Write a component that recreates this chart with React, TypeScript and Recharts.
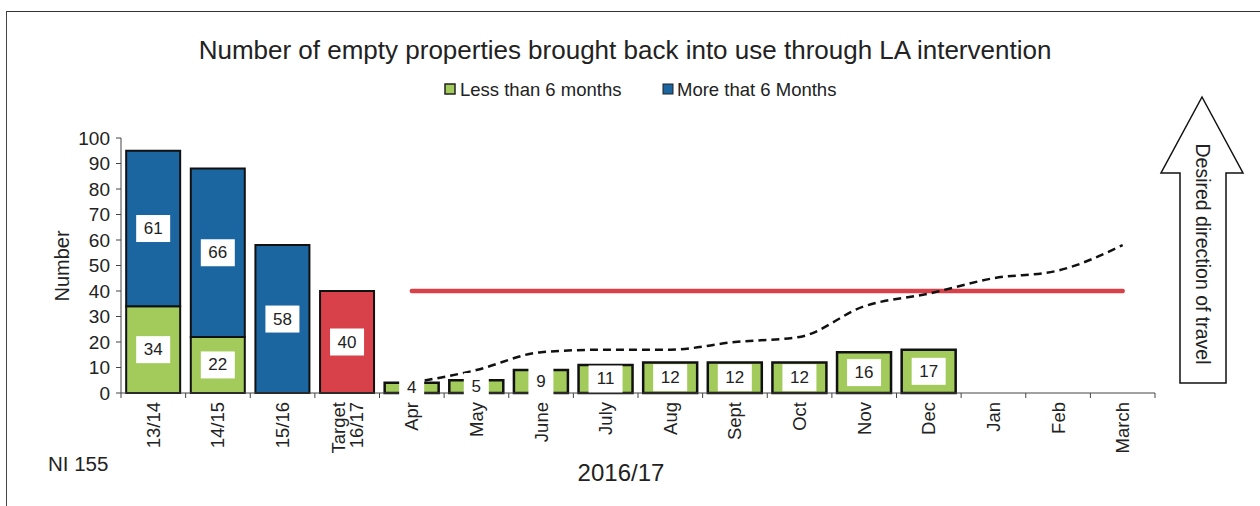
import React from "react"
import { ComposedChart, Bar, Line, XAxis, YAxis, Cell, LabelList } from "recharts"

const categories = [
  "13/14", "14/15", "15/16", "Target 16/17", "Apr", "May", "June", "July",
  "Aug", "Sept", "Oct", "Nov", "Dec", "Jan", "Feb", "March",
]
const lessThan6 = [34, 22, null, null, 4, 5, 9, 11, 12, 12, 12, 16, 17, null, null, null]
const moreThan6 = [61, 66, 58, null, null, null, null, null, null, null, null, null, null, null, null, null]
const targetBar = [null, null, null, 40, null, null, null, null, null, null, null, null, null, null, null, null]
const targetLine = [null, null, null, null, 40, 40, 40, 40, 40, 40, 40, 40, 40, 40, 40, 40]
const trendLine = [null, null, null, null, 4, 9, 16, 17, 17, 20, 22, 34, 39, 45, 48, 58]
const yTicks = [0, 10, 20, 30, 40, 50, 60, 70, 80, 90, 100]

const GREEN = "#a2cb5b"
const BLUE = "#1b65a0"
const RED = "#d8404a"
const FONT = "'Liberation Sans', Arial, sans-serif"

const data = categories.map((cat, i) => ({
  cat,
  less: lessThan6[i],
  more: moreThan6[i],
  target: targetBar[i],
  targetLine: targetLine[i],
  trend: trendLine[i],
}))

const CHART_W = 1260
const CHART_H = 506
const PLOT_LEFT = 121
const PLOT_RIGHT = 1155
const BAND = (PLOT_RIGHT - PLOT_LEFT) / categories.length

function BoxLabel(props: any) {
  const { x, y, width, height, value } = props
  if (value == null) return null
  const w = String(value).length * 9 + 16
  const h = 27
  const cx = x + width / 2
  const cy = y + height / 2
  return (
    <g>
      <rect x={cx - w / 2} y={cy - h / 2} width={w} height={h} fill="#fff" />
      <text x={cx} y={cy} textAnchor="middle" dominantBaseline="central" fontSize={17} fill="#222" fontFamily={FONT}>
        {value}
      </text>
    </g>
  )
}

function CategoryTick(props: any) {
  const { x, y, payload, index } = props
  const lines = String(payload.value).split(" ")
  const last = index === categories.length - 1
  return (
    <g>
      <line x1={x - BAND / 2} x2={x - BAND / 2} y1={y} y2={y + 5} stroke="#444" />
      {last && <line x1={x + BAND / 2} x2={x + BAND / 2} y1={y} y2={y + 5} stroke="#444" />}
      {lines.map((ln, k) => (
        <text
          key={k}
          transform={`translate(${x + (k - (lines.length - 1) / 2) * 18}, ${y + 9}) rotate(-90)`}
          textAnchor="end"
          dominantBaseline="central"
          fontSize={18.5}
          fill="#222"
          fontFamily={FONT}
        >
          {ln}
        </text>
      ))}
    </g>
  )
}

export default function App() {
  return (
    <div style={{ position: "absolute", left: 0, top: 0, width: CHART_W, height: CHART_H, background: "#fff", overflow: "hidden" }}>
      <div style={{ position: "absolute", left: 6, top: 11, width: 1400, height: 700, borderTop: "1.5px solid #333", borderLeft: "1.5px solid #444" }} />
      <div style={{ position: "absolute", left: 0, top: 0 }}>
        <ComposedChart
          width={CHART_W}
          height={CHART_H}
          data={data}
          margin={{ top: 138, right: CHART_W - PLOT_RIGHT, left: 61, bottom: 0 }}
          barCategoryGap="8%"
        >
          <XAxis
            dataKey="cat"
            interval={0}
            height={113}
            tickSize={0}
            tickMargin={0}
            tickLine={false}
            stroke="#444"
            tick={<CategoryTick />}
          />
          <YAxis
            width={60}
            domain={[0, 100]}
            ticks={yTicks}
            interval={0}
            tickSize={5}
            tickMargin={6}
            stroke="#444"
            tick={{ fontSize: 19, fill: "#222", fontFamily: FONT }}
          />
          <Bar dataKey="less" stackId="a" fill={GREEN} stroke="#111" isAnimationActive={false}>
            {data.map((_, i) => (
              <Cell key={i} strokeWidth={i < 4 ? 2 : 2.5} />
            ))}
            <LabelList dataKey="less" content={<BoxLabel />} />
          </Bar>
          <Bar dataKey="more" stackId="a" fill={BLUE} stroke="#111" strokeWidth={2} isAnimationActive={false}>
            <LabelList dataKey="more" content={<BoxLabel />} />
          </Bar>
          <Bar dataKey="target" stackId="a" fill={RED} stroke="#111" strokeWidth={2} isAnimationActive={false}>
            <LabelList dataKey="target" content={<BoxLabel />} />
          </Bar>
          <Line
            dataKey="targetLine"
            stroke={RED}
            strokeWidth={4.5}
            strokeLinecap="round"
            dot={false}
            activeDot={false}
            isAnimationActive={false}
          />
          <Line
            dataKey="trend"
            type="monotone"
            stroke="#111"
            strokeWidth={2.5}
            strokeDasharray="8 5"
            dot={false}
            activeDot={false}
            isAnimationActive={false}
          />
        </ComposedChart>
      </div>
      <svg width={CHART_W} height={CHART_H} style={{ position: "absolute", left: 0, top: 0, pointerEvents: "none" }}>
        <text x={625} y={59} textAnchor="middle" fontSize={26} fill="#222" fontFamily={FONT}>
          Number of empty properties brought back into use through LA intervention
        </text>
        <rect x={445} y={84} width={10} height={10} fill={GREEN} stroke="#222" strokeWidth={1.5} />
        <text x={460} y={96} fontSize={18.5} fill="#222" fontFamily={FONT}>Less than 6 months</text>
        <rect x={663} y={84} width={10} height={10} fill={BLUE} stroke="#222" strokeWidth={1} />
        <text x={677} y={96} fontSize={18.5} fill="#222" fontFamily={FONT}>More that 6 Months</text>
        <text transform="translate(62, 266) rotate(-90)" textAnchor="middle" dominantBaseline="central" fontSize={20} fill="#222" fontFamily={FONT}>
          Number
        </text>
        <text x={48} y={471} fontSize={20.5} fill="#222" fontFamily={FONT}>NI 155</text>
        <text x={621} y={481} textAnchor="middle" fontSize={24} fill="#222" fontFamily={FONT}>2016/17</text>
        <polygon
          points="1202,97 1243,173 1226,173 1226,383 1180,383 1180,173 1161,173"
          fill="#fff"
          stroke="#111"
          strokeWidth={1.5}
        />
        <text transform="translate(1203, 254) rotate(90)" textAnchor="middle" dominantBaseline="central" fontSize={19.5} fill="#222" fontFamily={FONT}>
          Desired direction of travel
        </text>
      </svg>
    </div>
  )
}
